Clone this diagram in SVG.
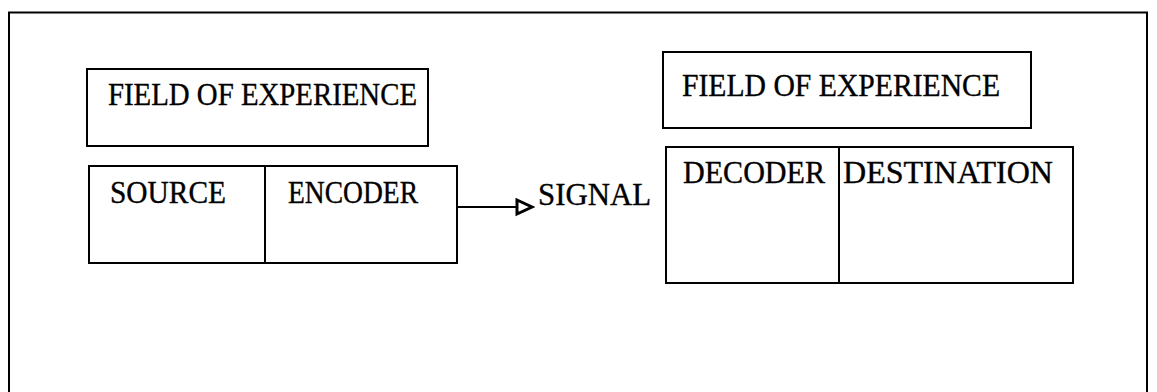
<svg xmlns="http://www.w3.org/2000/svg" width="1157" height="392" viewBox="0 0 1157 392">
<style>
.box{fill:none;stroke:#000;stroke-width:2}
.lbl{font-family:"Liberation Serif","Times New Roman",serif;fill:#000;stroke:#000;stroke-width:0.35;font-size:30.5px}
</style>
<defs>
<marker id="tri" markerWidth="20" markerHeight="20" refX="17" refY="9" orient="auto" markerUnits="userSpaceOnUse">
<path d="M2,2 L17,9 L2,16 Z" fill="#fff" stroke="#000" stroke-width="3"/>
</marker>
</defs>
<rect width="1157" height="392" fill="#fff"/>
<g id="frame"><path class="box" d="M9,400 L9,12.5 L1147,12.5 L1147,400"/></g>
<g id="field-left">
<rect class="box" x="87" y="69" width="341" height="77"/>
<text class="lbl" x="108" y="105" textLength="309" lengthAdjust="spacingAndGlyphs">FIELD OF EXPERIENCE</text>
</g>
<g id="source">
<rect class="box" x="89" y="166" width="176" height="97"/>
<text class="lbl" x="110" y="203" textLength="116" lengthAdjust="spacingAndGlyphs">SOURCE</text>
</g>
<g id="encoder">
<rect class="box" x="265" y="166" width="192" height="97"/>
<text class="lbl" x="288" y="203" textLength="130" lengthAdjust="spacingAndGlyphs">ENCODER</text>
</g>
<g id="signal">
<text class="lbl" x="538" y="205" textLength="113" lengthAdjust="spacingAndGlyphs">SIGNAL</text>
</g>
<g id="field-right">
<rect class="box" x="663" y="52" width="368" height="76"/>
<text class="lbl" x="682" y="96" textLength="318" lengthAdjust="spacingAndGlyphs">FIELD OF EXPERIENCE</text>
</g>
<g id="decoder">
<rect class="box" x="666" y="147" width="173" height="136"/>
<text class="lbl" x="683" y="183" textLength="142" lengthAdjust="spacingAndGlyphs">DECODER</text>
</g>
<g id="destination">
<rect class="box" x="839" y="147" width="234" height="136"/>
<text class="lbl" x="843" y="183" textLength="210" lengthAdjust="spacingAndGlyphs">DESTINATION</text>
</g>
<g id="connectors">
<line x1="457" y1="207" x2="532" y2="207" stroke="#000" stroke-width="2" marker-end="url(#tri)"/>
</g>
</svg>
